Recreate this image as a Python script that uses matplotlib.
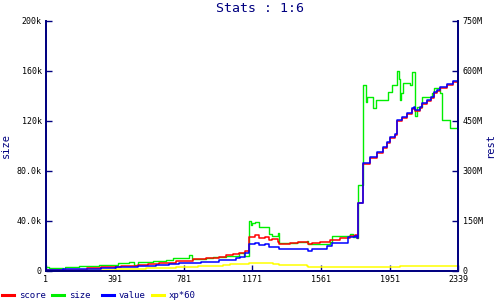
import matplotlib
matplotlib.use("Agg")
import matplotlib.pyplot as plt
from matplotlib.lines import Line2D

# stats chart: four step lines, left axis in k, right axis in M
navy = '#000080'
mono = 'DejaVu Sans Mono'

# x positions (index) and values for each series
size_x = [1, 20, 71, 96, 109, 190, 303, 331, 407, 473, 498, 521, 606, 681, 719, 813, 827, 908, 946,
          1021, 1096, 1125, 1151, 1163, 1170, 1185, 1208, 1242, 1266, 1280, 1316, 1321, 1422, 1478,
          1487, 1610, 1620, 1724, 1742, 1762, 1771, 1799, 1813, 1818, 1852, 1869, 1941, 1960, 1992,
          2000, 2007, 2011, 2026, 2030, 2064, 2077, 2092, 2102, 2134, 2187, 2202, 2234, 2244, 2247,
          2291, 2339]
size_y = [3.0, 1.9, 2.4, 1.6, 3.0, 3.8, 4.3, 4.8, 6.2, 6.7, 4.6, 6.7, 7.8, 8.8, 10.1, 12.3, 9.1, 10.4, 11.2,
          12.0, 13.9, 12.0, 40.0, 36.6, 37.9, 39.2, 35.2, 34.7, 29.4, 27.8, 29.9, 22.4, 23.2, 24.0,
          21.4, 23.2, 27.8, 29.4, 27.2, 25.9, 68.6, 148.6, 135.2, 138.7, 129.9, 136.6, 142.7, 148.6, 159.8,
          153.1, 136.6, 141.9, 149.9, 150.4, 148.6, 158.7, 123.8, 131.2, 138.7, 141.9, 145.9, 141.9, 130.7, 120.6,
          113.9, 113.9]

value_x = [1, 96, 313, 398, 521, 625, 700, 756, 776, 879, 983, 1078, 1100, 1130, 1151, 1185, 1208, 1242,
           1266, 1323, 1422, 1487, 1506, 1592, 1620, 1714, 1752, 1762, 1771, 1799, 1837, 1875, 1912, 1932,
           1950, 1979, 1988, 1992, 2017, 2045, 2073, 2086, 2092, 2120, 2130, 2158, 2181, 2200, 2215, 2234,
           2272, 2309, 2339]
value_y = [0.3, 1.6, 2.4, 3.0, 4.0, 4.8, 5.1, 6.4, 5.9, 7.0, 8.3, 9.9, 11.0, 14.0, 21.4, 22.4, 20.6, 21.2,
           19.2, 17.1, 17.6, 15.7, 17.6, 19.7, 21.9, 26.7, 28.0, 25.9, 54.4, 85.9, 91.2, 95.2, 98.7, 103.2,
           106.7, 109.4, 110.4, 120.6, 123.2, 126.4, 129.9, 131.2, 128.6, 131.2, 133.9, 136.6, 138.7, 143.2, 144.6, 147.2,
           149.4, 152.0, 153.9]

score_x = [1, 233, 313, 426, 521, 577, 643, 738, 832, 908, 983, 1021, 1059, 1096, 1129, 1151, 1165, 1185,
           1208, 1242, 1266, 1280, 1317, 1323, 1384, 1431, 1487, 1506, 1554, 1610, 1667, 1724, 1752, 1762,
           1771, 1799, 1837, 1875, 1912, 1932, 1950, 1979, 1988, 1992, 2017, 2045, 2073, 2086, 2092, 2120,
           2130, 2158, 2181, 2200, 2215, 2234, 2272, 2309, 2339]
score_y = [0.3, 1.9, 3.0, 3.5, 4.6, 5.4, 6.4, 8.0, 9.1, 10.4, 11.2, 12.3, 13.6, 14.4, 15.5, 27.2, 26.7, 28.6,
           26.0, 26.5, 24.6, 25.1, 23.2, 21.1, 21.9, 22.7, 21.1, 21.9, 22.7, 24.6, 26.0, 27.9, 28.6, 26.0,
           54.0, 85.3, 90.5, 94.4, 98.0, 102.4, 106.0, 108.6, 109.6, 119.8, 122.4, 125.6, 129.1, 130.4, 127.8, 130.4,
           133.1, 135.8, 137.9, 142.4, 143.8, 146.4, 148.6, 151.2, 153.1]

xp_x = [1, 190, 313, 398, 511, 568, 738, 861, 1002, 1044, 1151, 1185, 1230, 1290, 1323, 1480, 1487,
        1724, 2007, 2339]
xp_y = [0.0, 0.3, 0.5, 1.1, 1.3, 1.9, 2.7, 3.5, 4.8, 5.2, 5.9, 6.2, 5.9, 5.1, 4.2, 3.8, 2.7,
        3.2, 4.0, 4.0]

x_ticks = [1, 391, 781, 1171, 1561, 1951, 2339]
left_ticks = [0, 40, 80, 120, 160, 200]
left_labels = ['0', '40.0k', '80.0k', '120k', '160k', '200k']
right_ticks = [0, 150, 300, 450, 600, 750]
right_labels = ['0', '150M', '300M', '450M', '600M', '750M']

names = ['score', 'size', 'value', 'xp*60']
colors = ['#ff0000', '#00ee00', '#0000ff', '#ffff00']

fig = plt.figure(figsize=(5, 3), dpi=100)
ax = fig.add_axes([0.092, 0.098, 0.825, 0.833])

# draw order: yellow under, blue on top
ax.plot(xp_x, xp_y, drawstyle='steps-post', color=colors[3], lw=1.1)
ax.plot(size_x, size_y, drawstyle='steps-post', color=colors[1], lw=1.0)
ax.plot(score_x, score_y, drawstyle='steps-post', color=colors[0], lw=1.1)
ax.plot(value_x, value_y, drawstyle='steps-post', color=colors[2], lw=1.1)

ax.set_xlim(1, 2339)
ax.set_ylim(0, 200)
ax.set_xticks(x_ticks)
ax.set_xticklabels([str(t) for t in x_ticks])
ax.set_yticks(left_ticks)
ax.set_yticklabels(left_labels)

ax2 = ax.twinx()
ax2.set_ylim(0, 750)
ax2.set_yticks(right_ticks)
ax2.set_yticklabels(right_labels)

for a in (ax, ax2):
    a.spines['top'].set_visible(False)
    for s in ('left', 'right', 'bottom'):
        a.spines[s].set_color(navy)
        a.spines[s].set_linewidth(1.3)
    a.tick_params(direction='in', length=4, width=1, color=navy, labelsize=6, pad=3)
    for lab in a.get_xticklabels() + a.get_yticklabels():
        lab.set_family(mono)

ax.set_ylabel('size', color=navy, family=mono, fontsize=7.5, labelpad=4)
ax2.set_ylabel('rest', color=navy, family=mono, fontsize=7.5, labelpad=2)

fig.text(0.52, 0.972, 'Stats : 1:6', ha='center', va='center', color=navy, family=mono, fontsize=9.5)

# legend along the bottom edge
for i in range(4):
    x0 = (2 + 50 * i) / 500
    fig.add_artist(Line2D([x0, x0 + 12 / 500], [5 / 300, 5 / 300], color=colors[i], lw=2.2,
                          transform=fig.transFigure))
    fig.text(x0 + 17 / 500, 5 / 300, names[i], ha='left', va='center', color=navy, family=mono, fontsize=6.5)

fig.savefig('out.png', dpi=100)
